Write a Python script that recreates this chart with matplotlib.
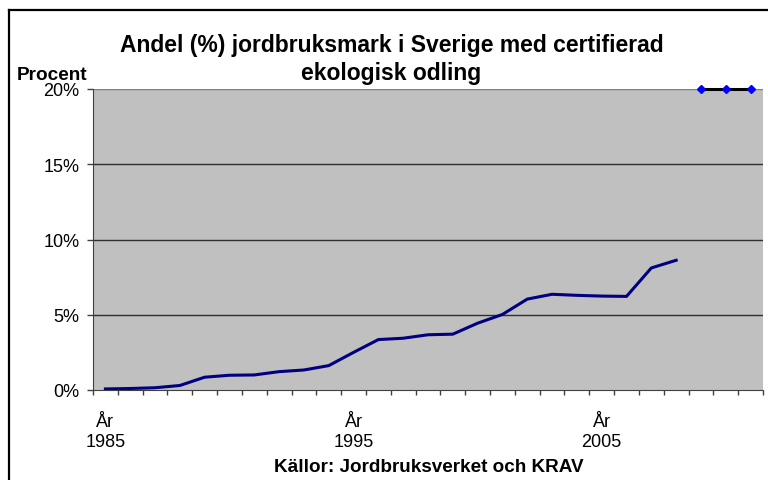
import matplotlib
matplotlib.use("Agg")
import matplotlib.pyplot as plt
from matplotlib.lines import Line2D

plt.rcParams['font.family'] = ['Liberation Sans', 'DejaVu Sans']

years = list(range(1985, 2012))
share_years = list(range(1985, 2009))
share_values = [0.07, 0.10, 0.15, 0.30, 0.85, 0.98, 1.00, 1.22, 1.33, 1.62,
                2.50, 3.35, 3.44, 3.67, 3.71, 4.44, 5.02, 6.04, 6.36, 6.29,
                6.24, 6.22, 8.11, 8.62]
extra_years = [2009, 2010, 2011]
extra_values = [20, 20, 20]
y_ticks = [0, 5, 10, 15, 20]
y_tick_labels = ["0%", "5%", "10%", "15%", "20%"]
x_label_years = [1985, 1995, 2005]
title_lines = ["Andel (%) jordbruksmark i Sverige med certifierad", "ekologisk odling"]

W, H = 768, 481
fig = plt.figure(figsize=(W / 100, H / 100), dpi=100)
fig.patch.set_facecolor("white")

left, right, top, bottom = 93, 763, 90, 391
ax = fig.add_axes([left / W, 1 - bottom / H, (right - left) / W, (bottom - top) / H])
ax.set_facecolor("#c0c0c0")

idx = {y: i for i, y in enumerate(years)}
ax.plot([idx[y] for y in share_years], share_values, color="#000080", lw=2.2,
        solid_joinstyle="round", zorder=3)
ax.plot([idx[y] for y in extra_years], extra_values, color="black", lw=2.2,
        marker="D", markersize=4.5, markerfacecolor="#0000ff",
        markeredgecolor="#0000ff", clip_on=False, zorder=4)

ax.set_xlim(-0.5, len(years) - 0.5)
ax.set_ylim(0, 20)

ax.set_yticks(y_ticks)
ax.set_yticklabels(y_tick_labels, fontsize=13)
ax.tick_params(axis="y", direction="out", length=4.3, width=1, color="#404040", pad=5.5)
for v in y_ticks[1:]:
    ax.axhline(v, color="#303030" if v < 20 else "#808080", lw=1, zorder=1)

ax.set_xticks([i - 0.5 for i in range(len(years) + 1)])
ax.set_xticklabels([])
ax.tick_params(axis="x", direction="out", length=3.6, width=1, color="#404040")

ph = bottom - top
for y in x_label_years:
    ax.text(idx[y], (bottom - 426.7) / ph, "År", transform=ax.get_xaxis_transform(),
            ha="center", va="baseline", fontsize=13)
    ax.text(idx[y], (bottom - 446.7) / ph, str(y), transform=ax.get_xaxis_transform(),
            ha="center", va="baseline", fontsize=13)

for s in ["top", "right"]:
    ax.spines[s].set_visible(False)
ax.spines["left"].set_color("#404040")
ax.spines["bottom"].set_color("#404040")

fig.text(391.5 / W, 1 - 52 / H, title_lines[0], ha="center", va="baseline",
         fontsize=16.5, fontweight="bold")
fig.text(391.5 / W, 1 - 80 / H, title_lines[1], ha="center", va="baseline",
         fontsize=16.5, fontweight="bold")
fig.text(52.5 / W, 1 - 80 / H, "Procent", ha="center", va="baseline",
         fontsize=13.7, fontweight="bold")
fig.text(428.5 / W, 1 - 471.7 / H, "Källor: Jordbruksverket och KRAV",
         ha="center", va="baseline", fontsize=13.6, fontweight="bold")

bx, by = 8.5 / W, 1 - 10.5 / H
fig.add_artist(Line2D([bx, bx], [0, by], transform=fig.transFigure, color="black", lw=1.6))
fig.add_artist(Line2D([bx, 1], [by, by], transform=fig.transFigure, color="black", lw=1.6))

fig.savefig("out.png", dpi=100)
